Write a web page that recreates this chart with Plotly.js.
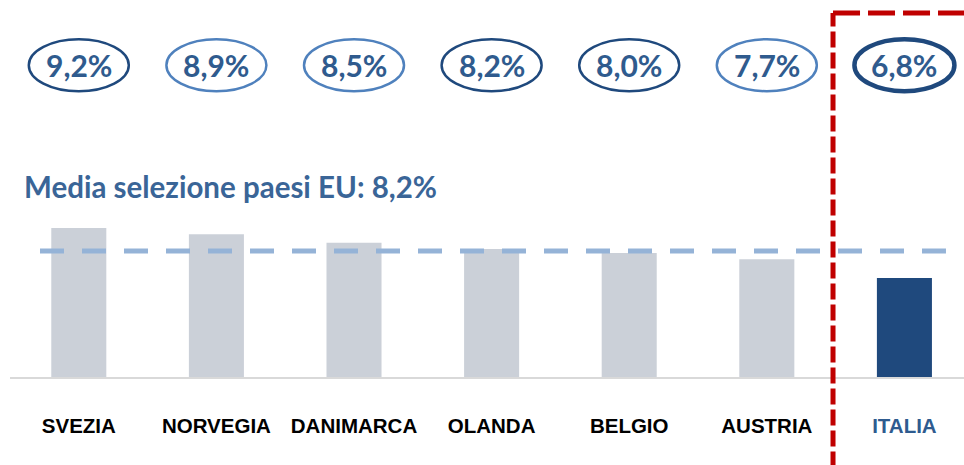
<!DOCTYPE html>
<html>
<head>
<meta charset="utf-8">
<script src="https://cdn.plot.ly/plotly-3.0.1.min.js"></script>
<style>html,body{margin:0;padding:0;background:#fff;}#chart{width:964px;height:465px;}</style>
</head>
<body>
<div id="chart"></div>
<script>
// ---- data ----
const paesi = ["SVEZIA", "NORVEGIA", "DANIMARCA", "OLANDA", "BELGIO", "AUSTRIA", "ITALIA"];
const valori = [9.2, 8.9, 8.5, 8.2, 8.0, 7.7, 6.8];
const mediaUE = 8.2;          // value in the label
const mediaLinea = 8.1;       // where the dashed line is drawn in the picture
const titoloMedia = "Media selezione paesi EU: ";

// ---- styles ----
const barColors = ["#cbd0d8", "#cbd0d8", "#cbd0d8", "#cbd0d8", "#cbd0d8", "#cbd0d8", "#1f497d"];
const ovalColors = ["#1f497d", "#4f81bd", "#4f81bd", "#1f497d", "#1f497d", "#4f81bd", "#1f497d"];
const ovalWidths = [2.5, 2.5, 2.5, 2.5, 2.5, 2.5, 4.5];
const labelColors = ["#000", "#000", "#000", "#000", "#000", "#000", "#2e5b8f"];

const fmt = v => v.toFixed(1).replace(".", ",") + "%";
const idx = paesi.map((_, i) => i);

const trace = {
  type: "bar",
  x: idx,
  y: valori,
  marker: { color: barColors, line: { width: 0 } },
  width: 0.4,
  hoverinfo: "skip",
  cliponaxis: true
};

const shapes = [];
const annotations = [];
idx.forEach(i => {
  shapes.push({
    type: "circle", xref: "x", yref: "paper",
    xsizemode: "pixel", ysizemode: "pixel",
    xanchor: i, yanchor: 0.827,
    x0: -50, x1: 50, y0: -26, y1: 26,
    line: { color: ovalColors[i], width: ovalWidths[i] },
    fillcolor: "rgba(0,0,0,0)", layer: "above"
  });
  annotations.push({
    x: i, y: 0.827, xref: "x", yref: "paper",
    text: fmt(valori[i]), showarrow: false,
    xanchor: "center", yanchor: "middle",
    font: { family: "Lato, 'Open Sans', sans-serif", size: 30, color: "#2f5b8e", weight: 700 }
  });
});

// average line
shapes.push({
  type: "line", xref: "x", yref: "y",
  x0: -0.282, x1: 6.302, y0: mediaLinea, y1: mediaLinea,
  line: { color: "#95b3d7", width: 5, dash: "24px,18px" }, layer: "above"
});
// red dashed highlight box
shapes.push({
  type: "line", xref: "paper", yref: "paper",
  x0: 0.8627, x1: 0.8627, y0: -0.24, y1: 0.9655,
  line: { color: "#c00000", width: 5, dash: "16px,5px" }, layer: "above"
});
shapes.push({
  type: "line", xref: "paper", yref: "paper",
  x0: 0.8627, x1: 1.02, y0: 0.9655, y1: 0.9655,
  line: { color: "#c00000", width: 5, dash: "27px,8px" }, layer: "above"
});

annotations.push({
  x: 0.0126, y: 0.504, xref: "paper", yref: "paper",
  xanchor: "left", yanchor: "middle", showarrow: false,
  text: titoloMedia + fmt(mediaUE),
  font: { family: "Lato, 'Open Sans', sans-serif", size: 29.5, color: "#3a6597", weight: 700 }
});

const layout = {
  width: 964, height: 465,
  margin: { l: 10, r: 0, t: 0, b: 88 },
  paper_bgcolor: "#fff", plot_bgcolor: "#fff",
  showlegend: false,
  xaxis: {
    range: [-0.5, 6.433],
    tickvals: idx,
    ticktext: paesi.map((p, i) => `<span style="color:${labelColors[i]}">${p}</span>`),
    showline: true, linecolor: "#d9d9d9", linewidth: 2,
    showgrid: false, zeroline: false, ticks: "",
    ticklabelstandoff: 29,
    tickfont: { family: "'Liberation Sans Narrow', 'Arial Narrow', sans-serif", size: 20.5, color: "#000", weight: 700 },
    fixedrange: true
  },
  yaxis: {
    range: [2.04, 20.17],
    visible: false, showgrid: false, zeroline: false, fixedrange: true
  },
  shapes: shapes,
  annotations: annotations
};

Plotly.newPlot("chart", [trace], layout, { displayModeBar: false, staticPlot: true });
</script>
</body>
</html>
